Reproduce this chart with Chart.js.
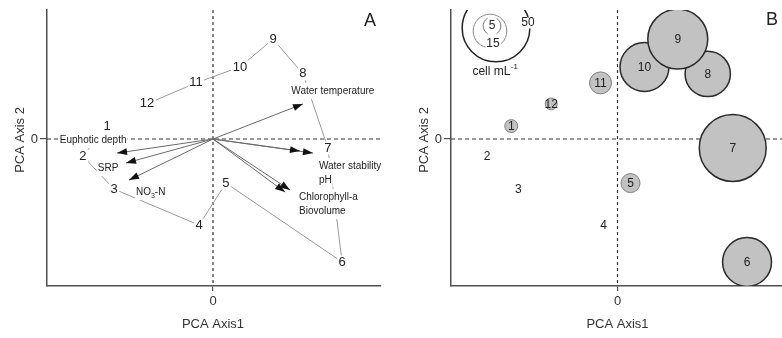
<!DOCTYPE html>
<html><head><meta charset="utf-8">
<script src="https://cdn.jsdelivr.net/npm/chart.js@4.4.1/dist/chart.umd.min.js"></script>
<style>
html,body{margin:0;padding:0;background:#fff;overflow:hidden;width:782px;height:338px;}
#wa{position:absolute;left:0;top:0;width:391px;height:338px;}
#wb{position:absolute;left:391px;top:0;width:400px;height:338px;}
</style></head><body>
<div id="wa"><canvas id="ca"></canvas></div>
<div id="wb"><canvas id="cb"></canvas></div>
<script>
// ---------- DATA ----------
const months = ['1','2','3','4','5','6','7','8','9','10','11','12'];
const pc1 = [-3.19,-3.92,-2.98,-0.42,0.39,3.89,3.46,2.71,1.81,0.81,-0.51,-1.99];
const pc2 = [0.43,-0.57,-1.67,-2.87,-1.47,-4.10,-0.30,2.17,3.33,2.40,1.87,1.17];
const density = [2.9,0,0,0,5.6,28.6,49,25,40.6,28.6,7.2,2.5]; // cell mL-1
const variables = ['Euphotic depth','SRP','NO3-N','Water temperature','Water stability','pH','Chlorophyll-a','Biovolume'];
const loadX = [-2.89,-2.62,-2.53,2.71,3.01,2.62,2.32,2.17];
const loadY = [-0.47,-0.80,-1.37,1.17,-0.47,-0.40,-1.70,-1.77];
const varLabelX = [-3.61,-3.16,-2.32,3.61,3.19,3.19,2.59,2.59];
const varLabelY = [-0.03,-0.97,-1.77,1.60,-0.90,-1.37,-1.93,-2.40];
const varLabelAlign = ['center','center','left','center','left','left','left','left'];
const xTicks = [0];
const yTicks = [0];
const legendValues = [5,15,50];
const X_MIN=-5, X_MAX=5.06, Y_MIN=-4.9, Y_MAX=4.3;

const FONT = "'Liberation Sans', Arial, Helvetica, sans-serif";
const AXIS_COLOR = '#505050';
const rFun = v => v>0 ? 3.5*Math.pow(v,0.58) : 0;

function scalesCfg(yWidth){
  return {
    x:{type:'linear',min:X_MIN,max:X_MAX,
      afterBuildTicks:s=>{s.ticks=xTicks.map(v=>({value:v}));},
      afterFit:s=>{s.height=52;},
      grid:{drawOnChartArea:false,drawTicks:true,tickLength:5,color:AXIS_COLOR,lineWidth:1.2},
      border:{display:true,color:AXIS_COLOR,width:1.5},
      ticks:{font:{family:FONT,size:13},color:'#333',padding:3,maxRotation:0}},
    y:{type:'linear',min:Y_MIN,max:Y_MAX,
      afterBuildTicks:s=>{s.ticks=yTicks.map(v=>({value:v}));},
      afterFit:s=>{s.width=yWidth;},
      grid:{drawOnChartArea:false,drawTicks:true,tickLength:7,color:AXIS_COLOR,lineWidth:1.2},
      border:{display:true,color:AXIS_COLOR,width:1.5},
      ticks:{font:{family:FONT,size:13},color:'#333',padding:2}}
  };
}

function boxText(ctx, txt, x, y, o){
  ctx.font = o.font;
  const w = ctx.measureText(txt).width;
  const left = o.align==='left' ? x : (o.align==='right' ? x-w : x-w/2);
  if(o.bg){ctx.fillStyle='#fff';ctx.fillRect(left-o.px,y-o.h/2-o.py,w+2*o.px,o.h+2*o.py);}
  ctx.fillStyle=o.color||'#222';ctx.textBaseline='middle';ctx.textAlign='left';
  ctx.fillText(txt,left,y);
}

function zeroLines(chart){
  const {ctx,chartArea:a,scales:{x,y}}=chart;
  const x0=x.getPixelForValue(0), y0=y.getPixelForValue(0);
  ctx.save();ctx.strokeStyle='#333';ctx.lineWidth=1.2;
  ctx.setLineDash([4,3]);ctx.beginPath();ctx.moveTo(a.left,y0);ctx.lineTo(a.right,y0);ctx.stroke();
  ctx.setLineDash([3,3]);ctx.beginPath();ctx.moveTo(x0,a.top);ctx.lineTo(x0,a.bottom);ctx.stroke();
  ctx.restore();
}

function titles(chart, letter, lx, ly){
  const {ctx,chartArea:a,scales:{y}}=chart;
  ctx.save();ctx.fillStyle='#333';ctx.font='13px '+FONT;ctx.textAlign='center';ctx.textBaseline='middle';
  ctx.fillText('PCA Axis1',(a.left+a.right)/2-1,324);
  ctx.translate(a.left-27,y.getPixelForValue(0)+1);ctx.rotate(-Math.PI/2);
  ctx.fillText('PCA Axis 2',0,0);
  ctx.restore();
  ctx.save();ctx.fillStyle='#222';ctx.font='18px '+FONT;ctx.textAlign='center';ctx.textBaseline='middle';
  ctx.fillText(letter,lx,ly);ctx.restore();
}

// ---------- PANEL A ----------
const panelA={
  id:'panelA',
  beforeDatasetsDraw(chart){zeroLines(chart);},
  afterDatasetsDraw(chart){
    const {ctx,scales:{x,y}}=chart;
    ctx.save();
    // arrowheads
    for(let i=1;i<=variables.length;i++){
      const m=chart.getDatasetMeta(i);const p0=m.data[0],p1=m.data[1];
      const ang=Math.atan2(p1.y-p0.y,p1.x-p0.x);
      const L=10,W=3.5;
      ctx.fillStyle='#111';ctx.beginPath();
      ctx.moveTo(p1.x,p1.y);
      ctx.lineTo(p1.x-L*Math.cos(ang)+W*Math.sin(ang),p1.y-L*Math.sin(ang)-W*Math.cos(ang));
      ctx.lineTo(p1.x-L*Math.cos(ang)-W*Math.sin(ang),p1.y-L*Math.sin(ang)+W*Math.cos(ang));
      ctx.closePath();ctx.fill();
    }
    // variable labels
    variables.forEach((v,i)=>{
      const px=x.getPixelForValue(varLabelX[i]),py=y.getPixelForValue(varLabelY[i]);
      if(v==='NO3-N'){
        ctx.font='10px '+FONT;const w1=ctx.measureText('NO').width;
        ctx.font='7px '+FONT;const w2=ctx.measureText('3').width;
        ctx.font='10px '+FONT;const w3=ctx.measureText('-N').width;
        ctx.fillStyle='#fff';ctx.fillRect(px-1,py-8,w1+w2+w3+2,16);
        ctx.fillStyle='#222';ctx.textBaseline='middle';ctx.textAlign='left';
        ctx.font='10px '+FONT;ctx.fillText('NO',px,py);
        ctx.font='7px '+FONT;ctx.fillText('3',px+w1,py+3.5);
        ctx.font='10px '+FONT;ctx.fillText('-N',px+w1+w2,py);
      } else {
        boxText(ctx,v,px,py,{font:'10px '+FONT,align:varLabelAlign[i],bg:true,px:1,py:3,h:10,color:'#222'});
      }
    });
    // month labels
    months.forEach((m,i)=>{
      boxText(ctx,m,x.getPixelForValue(pc1[i]),y.getPixelForValue(pc2[i]),
        {font:'13px '+FONT,align:'center',bg:true,px:1.5,py:1.5,h:10,color:'#222'});
    });
    ctx.restore();
  },
  afterDraw(chart){titles(chart,'A',370,21);}
};

new Chart(document.getElementById('ca'),{
  type:'scatter',
  data:{datasets:[
    {data:months.map((m,i)=>({x:pc1[i],y:pc2[i]})),showLine:true,borderColor:'#9a9a9a',borderWidth:1,pointRadius:0,tension:0},
    ...variables.map((v,i)=>({data:[{x:0,y:0},{x:loadX[i],y:loadY[i]}],showLine:true,borderColor:'#6a6a6a',borderWidth:1,pointRadius:0}))
  ]},
  options:{responsive:true,maintainAspectRatio:false,animation:false,events:[],
    layout:{padding:{top:10,right:10,left:0,bottom:0},autoPadding:false},
    plugins:{legend:{display:false},tooltip:{enabled:false}},
    scales:scalesCfg(47)},
  plugins:[panelA]
});

// ---------- PANEL B ----------
const bubbleData = months.map((m,i)=>({x:pc1[i],y:pc2[i],r:rFun(density[i]),v:density[i],m:m}))
  .sort((a,b)=>a.v-b.v);

const panelB={
  id:'panelB',
  beforeDatasetsDraw(chart){zeroLines(chart);},
  afterDatasetsDraw(chart){
    const {ctx,chartArea:a,scales:{x,y}}=chart;
    ctx.save();
    // month labels
    months.forEach((m,i)=>{
      boxText(ctx,m,x.getPixelForValue(pc1[i]),y.getPixelForValue(pc2[i])+0.5,
        {font:'12px '+FONT,align:'center',bg:false,px:0,py:0,h:10,color:'#222'});
    });
    // size legend
    ctx.beginPath();ctx.rect(a.left+1,a.top,a.right-a.left,a.bottom-a.top);ctx.clip();
    const cx=a.left+45, cy=a.top+18;
    const rS=rFun(legendValues[0]),rM=rFun(legendValues[1]),rL=rFun(legendValues[2]);
    ctx.lineWidth=1.5;ctx.strokeStyle='#222';
    ctx.beginPath();ctx.arc(cx,cy,rL,0,Math.PI*2);ctx.stroke();
    ctx.lineWidth=1;ctx.strokeStyle='#888';
    ctx.beginPath();ctx.arc(cx-6,cy+3,rM,0,Math.PI*2);ctx.stroke();
    ctx.strokeStyle='#777';
    ctx.beginPath();ctx.arc(cx-4,cy-2,rS,Math.PI*2/3,Math.PI*4/3);ctx.stroke();
    ctx.beginPath();ctx.arc(cx-4,cy-2,rS,-Math.PI/3,Math.PI/3);ctx.stroke();
    boxText(ctx,String(legendValues[2]),cx+32,cy-5,{font:'12px '+FONT,align:'center',bg:true,px:1,py:1,h:9,color:'#222'});
    boxText(ctx,String(legendValues[1]),cx-3,cy+16,{font:'12px '+FONT,align:'center',bg:true,px:1,py:1,h:9,color:'#222'});
    boxText(ctx,String(legendValues[0]),cx-4,cy-2,{font:'12px '+FONT,align:'center',bg:false,px:0,py:0,h:9,color:'#222'});
    ctx.font='12px '+FONT;
    const t='cell mL';const tw=ctx.measureText(t).width;
    ctx.font='8px '+FONT;const sw=ctx.measureText('-1').width;
    const tx=cx-1-(tw+sw)/2, ty=cy+44;
    ctx.fillStyle='#222';ctx.textBaseline='middle';ctx.textAlign='left';
    ctx.font='12px '+FONT;ctx.fillText(t,tx,ty);
    ctx.font='8px '+FONT;ctx.fillText('-1',tx+tw+0.5,ty-5);
    ctx.restore();
  },
  afterDraw(chart){titles(chart,'B',381,20);}
};

new Chart(document.getElementById('cb'),{
  type:'bubble',
  data:{datasets:[{data:bubbleData,backgroundColor:'#c2c2c2',
    borderColor:c=>c.raw&&c.raw.v>20?'#2a2a2a':'#808080',
    borderWidth:c=>c.raw&&c.raw.v>0?(c.raw.v>20?1.5:1):0}]},
  options:{responsive:true,maintainAspectRatio:false,animation:false,events:[],
    layout:{padding:{top:10,right:5,left:0,bottom:0},autoPadding:false},
    plugins:{legend:{display:false},tooltip:{enabled:false}},
    scales:scalesCfg(60)},
  plugins:[panelB]
});
</script></body></html>
